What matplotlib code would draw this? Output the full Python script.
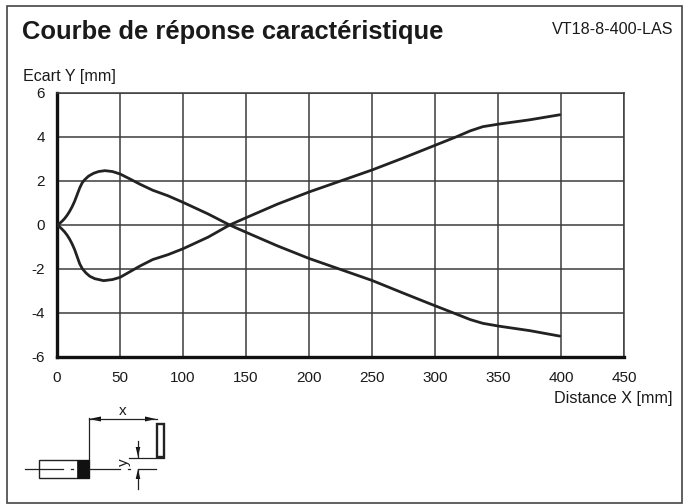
#!/usr/bin/env python3
import matplotlib
matplotlib.use('Agg')
import matplotlib.pyplot as plt
from matplotlib.patches import Rectangle, Polygon

plt.rcParams['font.family'] = ['Liberation Sans', 'DejaVu Sans']

# courbes
dist_up = [0, 2, 4, 6, 8, 10, 12, 14, 16, 18, 20, 22, 25, 29, 33, 38, 44, 50, 58, 66, 76, 88, 100, 120, 137, 150,
           175, 200, 225, 250, 275, 296, 317, 328, 338, 351, 375, 399]
ecart_up = [0, 0.07, 0.17, 0.29, 0.44, 0.62, 0.83, 1.08, 1.38, 1.68, 1.92, 2.06, 2.22, 2.35, 2.43, 2.47, 2.43,
            2.32, 2.09, 1.85, 1.58, 1.33, 1.03, 0.5, 0, -0.33, -0.95, -1.52, -2.02, -2.52, -3.1, -3.58, -4.05,
            -4.3, -4.47, -4.6, -4.8, -5.05]
dist_low = [0, 2, 4, 6, 8, 10, 12, 14, 16, 18, 20, 23, 26, 30, 37, 44, 50, 58, 66, 76, 88, 100, 120, 137, 150, 175,
            200, 225, 250, 275, 296, 317, 328, 338, 351, 375, 399]
ecart_low = [0, -0.08, -0.19, -0.31, -0.46, -0.64, -0.86, -1.12, -1.44, -1.76, -1.98, -2.18, -2.33, -2.44, -2.53,
             -2.48, -2.38, -2.12, -1.86, -1.57, -1.35, -1.08, -0.55, 0, 0.33, 0.95, 1.5, 2.0, 2.5, 3.05, 3.53,
             4.01, 4.28, 4.47, 4.59, 4.78, 5.01]

x_ticks = [0, 50, 100, 150, 200, 250, 300, 350, 400, 450]
y_ticks = [-6, -4, -2, 0, 2, 4, 6]
y_labels = ['-6', '-4', '-2', '0', '2', '4', '6']

W, H = 689, 504
DARK = '#222222'
GRID = '#3c3c3c'
TEXT = '#1a1a1a'

fig = plt.figure(figsize=(W / 100, H / 100), dpi=100)
ax = fig.add_axes([57 / W, 1 - 357 / H, (624 - 57) / W, (357 - 93) / H])

ax.plot(dist_up, ecart_up, color=DARK, lw=2.0, solid_capstyle='round', zorder=3)
ax.plot(dist_low, ecart_low, color=DARK, lw=2.0, solid_capstyle='round', zorder=3)

ax.set_xlim(0, 450)
ax.set_ylim(-6, 6)
ax.set_xticks(x_ticks)
ax.set_yticks(y_ticks)
ax.set_yticklabels(y_labels)
ax.grid(True, color=GRID, lw=1.1)
ax.tick_params(length=0, labelsize=11, colors=TEXT)
ax.tick_params(axis='x', pad=10)
ax.tick_params(axis='y', pad=8.5)
for s in ['top', 'right']:
    ax.spines[s].set_linewidth(1.1)
    ax.spines[s].set_color(GRID)
for s in ['left', 'bottom']:
    ax.spines[s].set_linewidth(2.4)
    ax.spines[s].set_color('#111111')

# calque en pixels pour le cadre, les textes et le schema
ov = fig.add_axes([0, 0, 1, 1], facecolor='none')
ov.set_xlim(0, W)
ov.set_ylim(H, 0)
ov.axis('off')

ov.add_patch(Rectangle((6.5, 5.5), 675, 497, fill=False, ec='#444444', lw=1.2))

ov.text(22, 32, 'Courbe de réponse caractéristique', fontsize=18.4, fontweight='bold',
        color=TEXT, va='center', ha='left')
ov.text(673, 30, 'VT18-8-400-LAS', fontsize=11.6, color=TEXT, va='center', ha='right')
ov.text(23, 76, 'Ecart Y [mm]', fontsize=11.6, color=TEXT, va='center', ha='left')
ov.text(673, 399, 'Distance X [mm]', fontsize=11.6, color=TEXT, va='center', ha='right')

# schema capteur / reflecteur
LINE = '#222222'
ov.add_patch(Rectangle((38.5, 460), 50, 18, fc='white', ec=LINE, lw=1.0))
ov.add_patch(Rectangle((77, 460), 12, 18, fc='#111111', ec='#111111', lw=0.5))
ov.add_patch(Rectangle((156.5, 424), 7, 33, fc='white', ec=LINE, lw=1.7))
for xs, ys in [([25, 63], [469, 469]), ([71, 73], [469, 469]), ([89, 120], [469, 469]),
               ([128, 130], [469, 469]), ([139, 156], [469, 469]), ([88.5, 88.5], [460, 418]),
               ([88.5, 156.5], [419, 419]), ([129, 164], [457.5, 457.5]),
               ([138, 138], [441, 457]), ([138, 138], [469, 489])]:
    ov.plot(xs, ys, color=LINE, lw=0.9)
for pts in [[(89, 419), (101, 416.5), (101, 421.5)], [(156, 419), (145, 416.5), (145, 421.5)],
            [(138, 457), (135.7, 447), (140.3, 447)], [(138, 469), (135.7, 479), (140.3, 479)]]:
    ov.add_patch(Polygon(pts, closed=True, fc='#111111', ec='none'))
ov.text(123, 411, 'x', fontsize=11, color=TEXT, ha='center', va='center')
ov.text(124, 462, 'y', fontsize=11, color=TEXT, ha='center', va='center', rotation=90)

fig.savefig('out.png', dpi=100)
